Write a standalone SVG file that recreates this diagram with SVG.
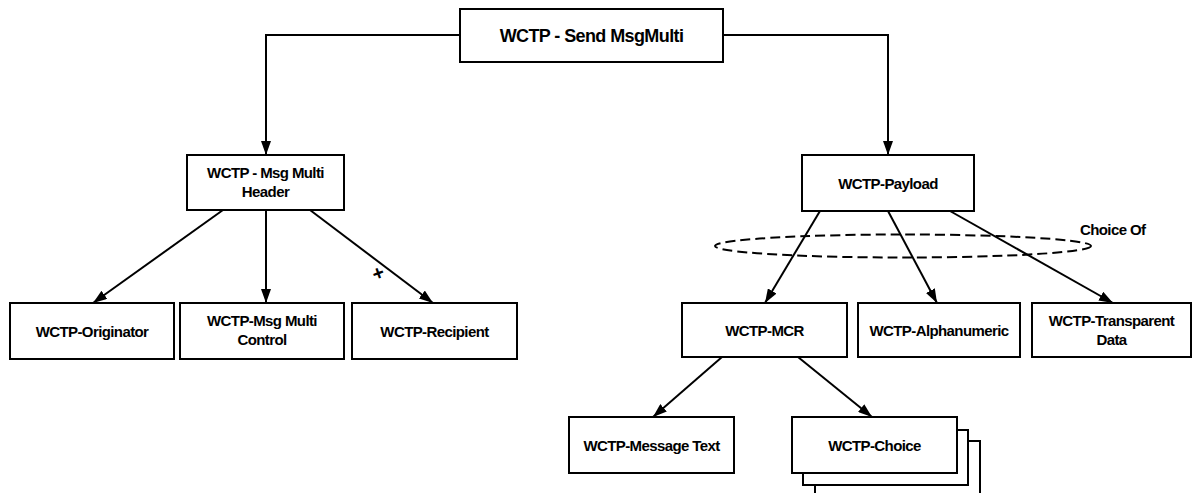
<svg xmlns="http://www.w3.org/2000/svg" width="1193" height="493" viewBox="0 0 1193 493">
<defs>
<marker id="arr" markerUnits="userSpaceOnUse" markerWidth="14" markerHeight="10" refX="14" refY="5" orient="auto">
<path d="M0,0 L14,5 L0,10 z" fill="#000"/>
</marker>
<style>
.box{fill:#fff;stroke:#000;stroke-width:2}
.lbl{font-family:"Liberation Sans",Arial,sans-serif;font-weight:bold;font-size:15px;fill:#000;text-anchor:middle;letter-spacing:-0.6px}
.ttl{font-size:18px}
.con{fill:none;stroke:#000;stroke-width:2;marker-end:url(#arr)}
.mark{font-family:"Liberation Sans",Arial,sans-serif;font-weight:bold;font-size:20px;fill:#000;text-anchor:middle}
</style>
</defs>
<rect width="1193" height="493" fill="#fff"/>
<g id="connectors">
<path class="con" d="M460,35 H266 V155"/>
<path class="con" d="M723,35 H888 V155"/>
<path class="con" d="M223,210 L93,303"/>
<path class="con" d="M266,210 V303"/>
<path class="con" d="M310,210 L433,303"/>
<path class="con" d="M820,211 L765,303"/>
<path class="con" d="M888,211 L937,303"/>
<path class="con" d="M950,211 L1113,303"/>
<path class="con" d="M722,357 L653,417"/>
<path class="con" d="M798,357 L872,417"/>
<text x="378" y="280" class="mark" transform="rotate(-20 378 273)">+</text>
</g>
<g id="choice-of">
<ellipse cx="903" cy="246" rx="188" ry="11.5" fill="none" stroke="#000" stroke-width="2" stroke-dasharray="10,5"/>
<text x="1080" y="235" class="lbl" style="text-anchor:start">Choice Of</text>
</g>
<g id="send-msgmulti">
<rect class="box" x="460" y="9" width="263" height="53"/>
<text class="lbl ttl" x="591.5" y="42">WCTP - Send MsgMulti</text>
</g>
<g id="msg-multi-header">
<rect class="box" x="187" y="155" width="157" height="55"/>
<text class="lbl" x="265.5" y="178">WCTP - Msg Multi</text>
<text class="lbl" x="265.5" y="197">Header</text>
</g>
<g id="payload">
<rect class="box" x="802" y="155" width="172" height="56"/>
<text class="lbl" x="888" y="189">WCTP-Payload</text>
</g>
<g id="originator">
<rect class="box" x="10" y="303" width="164" height="56"/>
<text class="lbl" x="92" y="337">WCTP-Originator</text>
</g>
<g id="msg-multi-control">
<rect class="box" x="180" y="303" width="164" height="56"/>
<text class="lbl" x="262" y="326">WCTP-Msg Multi</text>
<text class="lbl" x="262" y="345">Control</text>
</g>
<g id="recipient">
<rect class="box" x="352" y="303" width="165" height="56"/>
<text class="lbl" x="434.5" y="337">WCTP-Recipient</text>
</g>
<g id="mcr">
<rect class="box" x="682" y="303" width="165" height="54"/>
<text class="lbl" x="764.5" y="336">WCTP-MCR</text>
</g>
<g id="alphanumeric">
<rect class="box" x="858" y="303" width="162" height="54"/>
<text class="lbl" x="939" y="336">WCTP-Alphanumeric</text>
</g>
<g id="transparent-data">
<rect class="box" x="1032" y="303" width="159" height="54"/>
<text class="lbl" x="1111.5" y="326">WCTP-Transparent</text>
<text class="lbl" x="1111.5" y="345">Data</text>
</g>
<g id="message-text">
<rect class="box" x="569" y="417" width="165" height="56"/>
<text class="lbl" x="651.5" y="451">WCTP-Message Text</text>
</g>
<g id="choice">
<rect class="box" x="815" y="441" width="165" height="56"/>
<rect class="box" x="803" y="430" width="165" height="55"/>
<rect class="box" x="792" y="417" width="165" height="56"/>
<text class="lbl" x="874.5" y="451">WCTP-Choice</text>
</g>
</svg>
